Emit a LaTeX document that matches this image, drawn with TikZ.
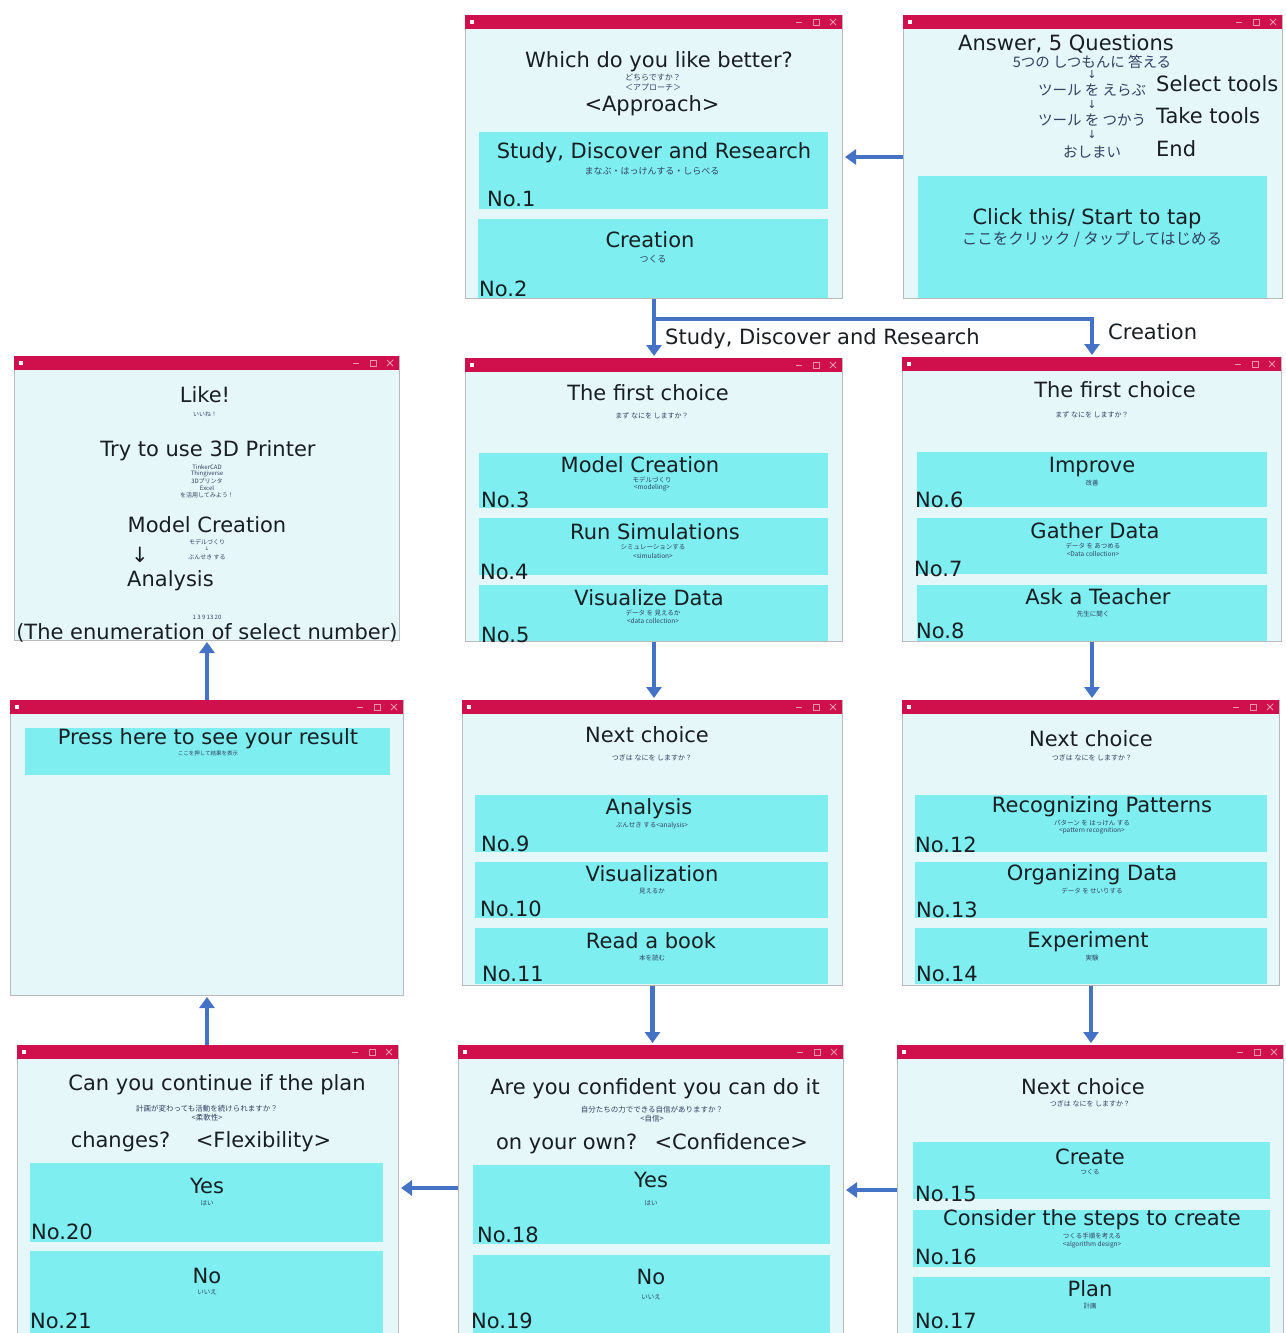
\documentclass[tikz,border=0pt]{standalone}
\usepackage{fontspec}
\setmainfont{DejaVu Sans}
\newfontfamily\jpfont{Noto Sans CJK JP}
\usetikzlibrary{arrows.meta,calc}

\definecolor{barred}{RGB}{208,16,76}
\definecolor{winbg}{RGB}{230,247,249}
\definecolor{btnbg}{RGB}{126,238,240}
\definecolor{flowblue}{RGB}{68,114,196}
\definecolor{inkcol}{RGB}{25,30,35}
\definecolor{jpcol}{RGB}{50,65,100}
\definecolor{ctrlcol}{RGB}{236,150,175}

\tikzset{
  winbody/.style={draw=gray!55, line width=1pt, fill=winbg, inner sep=0pt, rectangle},
  titlebar/.style={fill=barred},
  btnfill/.style={fill=btnbg},
  lbl/.style={font=\fontsize{21}{24}\selectfont, text=inkcol, inner sep=0pt, yshift=-2pt},
  num/.style={lbl, anchor=west},
  jp/.style={font=\jpfont\fontsize{#1}{#1}\selectfont, text=jpcol, inner sep=0pt},
  jp/.default=8,
  arrowglyph/.style={font=\fontsize{#1}{#1}\selectfont, text=jpcol, inner sep=0pt},
  flow/.style={draw=flowblue, line width=4.5pt, -{Triangle[width=15pt,length=11pt]}, shorten >=2pt},
}

% application window: name, left, top, right, bottom
\newcommand\appwin[5]{%
  \node[winbody, anchor=north west, minimum width={#4pt-#2pt}, minimum height={#5pt-#3pt}] (#1) at (#2,#3) {};
  \fill[titlebar] (#2,#3) rectangle (#4,#3+14);
  \fill[white] (#2+5,#3+5) rectangle (#2+9,#3+9);
  \draw[ctrlcol, line width=0.8pt] (#4-46,#3+7) -- (#4-40,#3+7);
  \draw[ctrlcol, line width=0.8pt] (#4-29,#3+4) rectangle (#4-23,#3+10);
  \draw[ctrlcol, line width=0.8pt] (#4-12,#3+4) -- (#4-6,#3+10) (#4-12,#3+10) -- (#4-6,#3+4);
}
% answer button: left, top, right, bottom
\newcommand\answerbtn[4]{\fill[btnfill] (#1,#2) rectangle (#3,#4);}

\begin{document}
\begin{tikzpicture}[x=1pt,y=-1pt]
\useasboundingbox (0,0) rectangle (1285,1333);
\fill[white] (0,0) rectangle (1285,1333);

% ---------------- windows ----------------
\appwin{w1}{465}{15}{842}{298}
\appwin{w2}{903}{15}{1282}{298}
\appwin{w3}{14}{356}{399}{640}
\appwin{w4}{465}{358}{842}{641}
\appwin{w5}{902}{357}{1281}{641}
\appwin{w6}{10}{700}{403}{995}
\appwin{w7}{462}{700}{842}{985}
\appwin{w8}{902}{700}{1279}{985}
\appwin{w9}{17}{1045}{398}{1340}
\appwin{w10}{458}{1045}{843}{1340}
\appwin{w11}{897}{1045}{1283}{1340}

% ---------------- approach ----------------
\node[lbl] (a1) at (659,60) {Which do you like better?};
\node[jp] (a2) at (653,78) {どちらですか？};
\node[jp] (a3) at (653,87) {＜アプローチ＞};
\node[lbl] (a4) at (652,104) {<Approach>};
\answerbtn{479}{132}{828}{209}
\node[lbl] (a5) at (654,151) {Study, Discover and Research};
\node[jp=9] (a6) at (652,171) {まなぶ・はっけんする・しらべる};
\node[num] (n1) at (487,197) {No.1};
\answerbtn{478}{219}{828}{298}
\node[lbl] (a7) at (650,238) {Creation};
\node[jp=9] (a8) at (653,259) {つくる};
\node[num] (n2) at (479,287) {No.2};

% ---------------- start ----------------
\node[lbl] (s1) at (1066,42) {Answer, 5 Questions};
\node[jp=14.5] (s2) at (1092,62) {5つの しつもんに 答える};
\node[arrowglyph=11] (s3) at (1092,75) {↓};
\node[jp=14.5] (s4) at (1092,90) {ツール を えらぶ};
\node[lbl, anchor=west] (s5) at (1156,82) {Select tools};
\node[arrowglyph=11] (s6) at (1092,105) {↓};
\node[jp=14.5] (s7) at (1092,120) {ツール を つかう};
\node[lbl, anchor=west] (s8) at (1156,114) {Take tools};
\node[arrowglyph=11] (s9) at (1092,135) {↓};
\node[jp=14.5] (s10) at (1092,152) {おしまい};
\node[lbl, anchor=west] (s11) at (1156,147) {End};
\answerbtn{918}{176}{1267}{298}
\node[lbl] (s12) at (1087,217) {Click this/ Start to tap};
\node[jp=15.5] (s13) at (1092,239) {ここをクリック / タップしてはじめる};

% ---------------- result ----------------
\node[lbl] (r1) at (205,393) {Like!};
\node[jp=6] (r2) at (205,414) {いいね！};
\node[lbl] (r3) at (208,449) {Try to use 3D Printer};
\node[jp=6] (r4) at (207,467) {TinkerCAD};
\node[jp=6] (r5) at (207,474) {Thingiverse};
\node[jp=6] (r6) at (207,481) {3Dプリンタ};
\node[jp=6] (r7) at (207,488) {Excel};
\node[jp=6] (r8) at (207,495) {を活用してみよう！};
\node[lbl] (r9) at (207,523) {Model Creation};
\node[jp=6] (r10) at (207,542) {モデルづくり};
\node[arrowglyph=5] (r11) at (207,549) {↓};
\node[jp=6] (r12) at (207,557) {ぶんせき する};
\node[lbl] (r13) at (140,553) {↓};
\node[lbl, anchor=west] (r14) at (127,579) {Analysis};
\node[jp=6] (r15) at (207,617) {1 3 9 13 20};
\node[lbl] (r16) at (207,631) {(The enumeration of select number)};

% ---------------- press for result ----------------
\answerbtn{25}{728}{390}{775}
\node[lbl] (p1) at (208,737) {Press here to see your result};
\node[jp=5.5] (p2) at (208,753) {ここを押して結果を表示};

% ---------------- first choice (study) ----------------
\node[lbl] (b1) at (648,391) {The first choice};
\node[jp=7] (b2) at (652,416) {まず なにを しますか？};
\answerbtn{479}{453}{828}{508}
\node[lbl] (b3) at (640,463) {Model Creation};
\node[jp=6.5] (b4) at (652,480) {モデルづくり};
\node[jp=6.5] (b5) at (652,488) {<modeling>};
\node[num] (n3) at (481,498) {No.3};
\answerbtn{479}{518}{828}{575}
\node[lbl] (b6) at (655,530) {Run Simulations};
\node[jp=6.5] (b7) at (653,547) {シミュレーションする};
\node[jp=6.5] (b8) at (653,556) {<simulation>};
\node[num] (n4) at (480,570) {No.4};
\answerbtn{479}{585}{828}{641}
\node[lbl] (b9) at (649,596) {Visualize Data};
\node[jp=6.5] (b10) at (653,613) {データ を 見えるか};
\node[jp=6.5] (b11) at (653,621) {<data collection>};
\node[num] (n5) at (481,633) {No.5};

% ---------------- first choice (creation) ----------------
\node[lbl] (c1) at (1115,388) {The first choice};
\node[jp=7] (c2) at (1092,415) {まず なにを しますか？};
\answerbtn{917}{452}{1267}{507}
\node[lbl] (c3) at (1092,465) {Improve};
\node[jp=6.5] (c4) at (1092,483) {改善};
\node[num] (n6) at (915,498) {No.6};
\answerbtn{917}{518}{1267}{574}
\node[lbl] (c5) at (1095,529) {Gather Data};
\node[jp=6.5] (c6) at (1093,546) {データ を あつめる};
\node[jp=6.5] (c7) at (1093,554) {<Data collection>};
\node[num] (n7) at (914,567) {No.7};
\answerbtn{917}{585}{1267}{641}
\node[lbl] (c8) at (1098,595) {Ask a Teacher};
\node[jp=6.5] (c9) at (1093,614) {先生に聞く};
\node[num] (n8) at (916,629) {No.8};

% ---------------- next choice (study) ----------------
\node[lbl] (d1) at (647,733) {Next choice};
\node[jp=7] (d2) at (652,758) {つぎは なにを しますか？};
\answerbtn{475}{795}{828}{852}
\node[lbl] (d3) at (649,807) {Analysis};
\node[jp=6.5] (d4) at (652,826) {ぶんせき する<analysis>};
\node[num] (n9) at (481,842) {No.9};
\answerbtn{475}{862}{828}{918}
\node[lbl] (d5) at (652,872) {Visualization};
\node[jp=6.5] (d6) at (652,891) {見えるか};
\node[num] (n10) at (480,907) {No.10};
\answerbtn{475}{928}{828}{984}
\node[lbl] (d7) at (651,939) {Read a book};
\node[jp=6.5] (d8) at (652,958) {本を読む};
\node[num] (n11) at (482,972) {No.11};

% ---------------- next choice (creation) ----------------
\node[lbl] (e1) at (1091,737) {Next choice};
\node[jp=7] (e2) at (1092,758) {つぎは なにを しますか？};
\answerbtn{915}{795}{1267}{852}
\node[lbl] (e3) at (1102,805) {Recognizing Patterns};
\node[jp=6.5] (e4) at (1092,823) {パターン を はっけん する};
\node[jp=6.5] (e5) at (1092,831) {<pattern recognition>};
\node[num] (n12) at (915,843) {No.12};
\answerbtn{915}{862}{1267}{918}
\node[lbl] (e6) at (1092,873) {Organizing Data};
\node[jp=6.5] (e7) at (1092,891) {データ を せいりする};
\node[num] (n13) at (916,908) {No.13};
\answerbtn{915}{928}{1267}{984}
\node[lbl] (e8) at (1088,940) {Experiment};
\node[jp=6.5] (e9) at (1092,958) {実験};
\node[num] (n14) at (916,972) {No.14};

% ---------------- flexibility ----------------
\node[lbl] (f1) at (217,1083) {Can you continue if the plan};
\node[jp=7.5] (f2) at (207,1109) {計画が変わっても活動を続けられますか？};
\node[jp=7.5] (f3) at (207,1118) {<柔軟性>};
\node[lbl] (f4) at (201,1140) {changes?\hspace{0.8em} <Flexibility>};
\answerbtn{30}{1163}{383}{1242}
\node[lbl] (f5) at (207,1184) {Yes};
\node[jp=6.5] (f6) at (207,1203) {はい};
\node[num] (n20) at (31,1230) {No.20};
\answerbtn{30}{1251}{383}{1340}
\node[lbl] (f7) at (207,1274) {No};
\node[jp=6.5] (f8) at (207,1292) {いいえ};
\node[num] (n21) at (30,1319) {No.21};

% ---------------- confidence ----------------
\node[lbl] (g1) at (655,1087) {Are you confident you can do it};
\node[jp=7.5] (g2) at (652,1110) {自分たちの力でできる自信がありますか？};
\node[jp=7.5] (g3) at (652,1119) {<自信>};
\node[lbl] (g4) at (652,1142) {on your own?\hspace{0.4em} <Confidence>};
\answerbtn{473}{1165}{830}{1244}
\node[lbl] (g5) at (651,1178) {Yes};
\node[jp=6.5] (g6) at (651,1203) {はい};
\node[num] (n18) at (477,1233) {No.18};
\answerbtn{473}{1255}{830}{1340}
\node[lbl] (g7) at (651,1275) {No};
\node[jp=6.5] (g8) at (651,1297) {いいえ};
\node[num] (n19) at (471,1319) {No.19};

% ---------------- next choice (making) ----------------
\node[lbl] (h1) at (1083,1085) {Next choice};
\node[jp=7] (h2) at (1090,1104) {つぎは なにを しますか？};
\answerbtn{913}{1142}{1270}{1199}
\node[lbl] (h3) at (1090,1155) {Create};
\node[jp=6.5] (h4) at (1090,1172) {つくる};
\node[num] (n15) at (915,1192) {No.15};
\answerbtn{913}{1210}{1270}{1267}
\node[lbl] (h5) at (1092,1218) {Consider the steps to create};
\node[jp=6.5] (h6) at (1092,1236) {つくる手順を考える};
\node[jp=6.5] (h7) at (1092,1245) {<algorithm design>};
\node[num] (n16) at (915,1255) {No.16};
\answerbtn{913}{1277}{1270}{1340}
\node[lbl] (h8) at (1090,1287) {Plan};
\node[jp=6.5] (h9) at (1090,1306) {計画};
\node[num] (n17) at (915,1319) {No.17};

% ---------------- flow ----------------
\draw[flow] (w2.west) -- (w1.east);
\coordinate (fork) at ([yshift=-20pt]w1.south);
\draw[flow] (w1.south) -- (w1.south |- w4.north);
\draw[flow] (fork) -| (w5.north);
\node[lbl, anchor=west] (lsdr) at (665,337) {Study, Discover and Research};
\node[lbl, anchor=west] (lcre) at (1108,330) {Creation};
\draw[flow] (w4.south) -- (w4.south |- w7.north);
\draw[flow] (w5.south) -- (w5.south |- w8.north);
\draw[flow] (w7.south) -- (w7.south |- w10.north);
\draw[flow] (w8.south) -- (w8.south |- w11.north);
\draw[flow] (w11.west |- 0,1190) -- (w10.east |- 0,1190);
\draw[flow] (w10.west |- 0,1188) -- (w9.east |- 0,1188);
\draw[flow] (207,1045) -- (207,995);
\draw[flow] (207,700) -- (207,640);
\end{tikzpicture}
\end{document}
